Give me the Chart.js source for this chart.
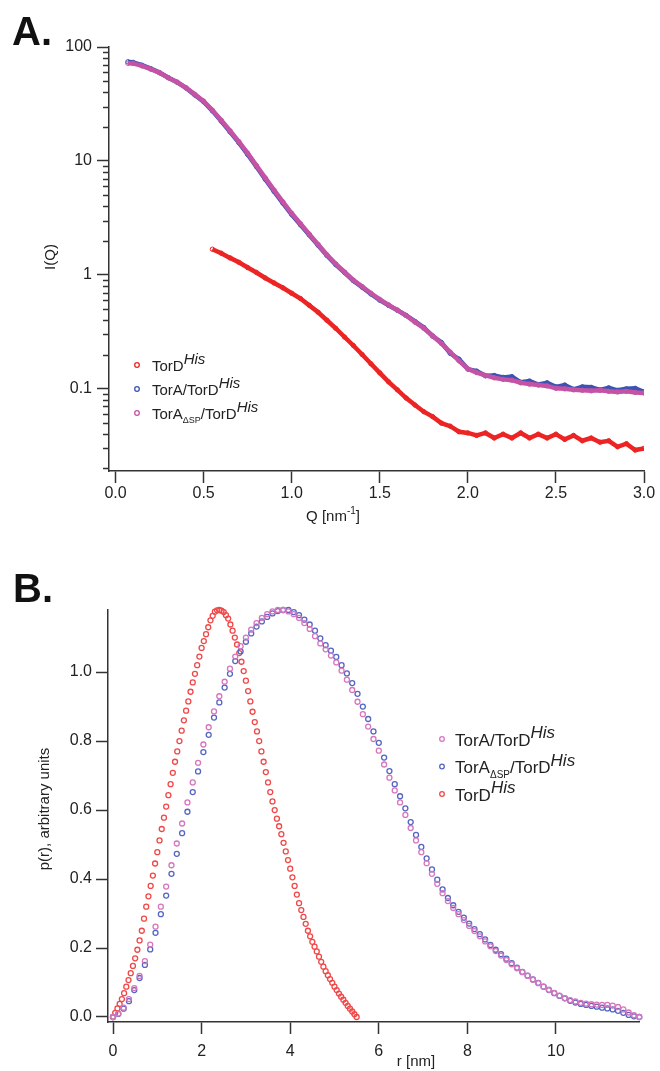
<!DOCTYPE html>
<html>
<head>
<meta charset="utf-8">
<script src="https://cdn.jsdelivr.net/npm/chart.js@4.4.0/dist/chart.umd.min.js"></script>
<style>
  body { margin: 0; background: #fff; }
  canvas { display: block; }
</style>
</head>
<body>
<canvas id="chartA" width="660" height="535"></canvas>
<canvas id="chartB" width="660" height="536"></canvas>
<script>
/* ---------- panel A : I(Q) ---------- */
const qA = [
  0.07, 0.10, 0.15, 0.20, 0.25, 0.30, 0.35, 0.40, 0.45, 0.50,
  0.55, 0.60, 0.65, 0.70, 0.75, 0.80, 0.85, 0.90, 0.95, 1.00,
  1.05, 1.10, 1.15, 1.20, 1.25, 1.30, 1.35, 1.40, 1.45, 1.50,
  1.55, 1.60, 1.65, 1.70, 1.75, 1.80, 1.85, 1.90, 1.95, 2.00,
  2.05, 2.10, 2.15, 2.20, 2.25, 2.30, 2.35, 2.40, 2.45, 2.50,
  2.55, 2.60, 2.65, 2.70, 2.75, 2.80, 2.85, 2.90, 2.95, 3.00
];
const iTorD = [
  null, null, null, null, null, null, null, null, null, null,
  1.68, 1.55, 1.41, 1.29, 1.16, 1.05, 0.94, 0.85, 0.77, 0.69,
  0.62, 0.54, 0.47, 0.40, 0.34, 0.285, 0.24, 0.20, 0.166, 0.138,
  0.115, 0.098, 0.083, 0.072, 0.063, 0.057, 0.050, 0.047, 0.042, 0.041,
  0.039, 0.041, 0.037, 0.040, 0.037, 0.041, 0.037, 0.040, 0.037, 0.040,
  0.036, 0.039, 0.035, 0.037, 0.034, 0.035, 0.031, 0.033, 0.029, 0.030
];
const iTorATorD = [
  74.1, 73.3, 69.2, 64.6, 59.6, 53.7, 49.0, 43.7, 38.0, 33.1,
  27.5, 22.4, 18.0, 14.5, 11.4, 8.9, 6.9, 5.4, 4.27, 3.39,
  2.75, 2.24, 1.82, 1.48, 1.23, 1.05, 0.89, 0.78, 0.68, 0.60,
  0.54, 0.49, 0.44, 0.39, 0.345, 0.29, 0.255, 0.205, 0.182, 0.149,
  0.143, 0.130, 0.131, 0.126, 0.128, 0.114, 0.117, 0.109, 0.113, 0.104,
  0.108, 0.099, 0.104, 0.103, 0.098, 0.102, 0.097, 0.100, 0.101, 0.094
];
const iTorADsp = [
  72.0, 71.8, 68.3, 64.0, 59.4, 53.8, 49.2, 44.0, 38.4, 33.5,
  27.9, 22.8, 18.4, 14.8, 11.7, 9.1, 7.1, 5.55, 4.38, 3.47,
  2.81, 2.28, 1.85, 1.50, 1.25, 1.06, 0.90, 0.79, 0.69, 0.61,
  0.545, 0.49, 0.44, 0.385, 0.34, 0.292, 0.25, 0.21, 0.176, 0.150,
  0.139, 0.131, 0.125, 0.121, 0.119, 0.113, 0.110, 0.108, 0.106, 0.101,
  0.100, 0.098, 0.097, 0.096, 0.097, 0.095, 0.094, 0.095, 0.093, 0.092
];
const qTicks = [0, 0.5, 1.0, 1.5, 2.0, 2.5, 3.0];
const iTicks = [0.1, 1, 10, 100];

/* ---------- panel B : p(r) ---------- */
const rRed = [
  0.00, 0.05, 0.10, 0.15, 0.20, 0.25, 0.30, 0.35, 0.40, 0.45,
  0.50, 0.55, 0.60, 0.65, 0.70, 0.75, 0.80, 0.85, 0.90, 0.95,
  1.00, 1.05, 1.10, 1.15, 1.20, 1.25, 1.30, 1.35, 1.40, 1.45,
  1.50, 1.55, 1.60, 1.65, 1.70, 1.75, 1.80, 1.85, 1.90, 1.95,
  2.00, 2.05, 2.10, 2.15, 2.20, 2.25, 2.30, 2.35, 2.40, 2.45,
  2.50, 2.55, 2.60, 2.65, 2.70, 2.75, 2.80, 2.85, 2.90, 2.95,
  3.00, 3.05, 3.10, 3.15, 3.20, 3.25, 3.30, 3.35, 3.40, 3.45,
  3.50, 3.55, 3.60, 3.65, 3.70, 3.75, 3.80, 3.85, 3.90, 3.95,
  4.00, 4.05, 4.10, 4.15, 4.20, 4.25, 4.30, 4.35, 4.40, 4.45,
  4.50, 4.55, 4.60, 4.65, 4.70, 4.75, 4.80, 4.85, 4.90, 4.95,
  5.00, 5.05, 5.10, 5.15, 5.20, 5.25, 5.30, 5.35, 5.40, 5.45,
  5.50
];
const pTorD = [
  0.000, 0.012, 0.025, 0.038, 0.052, 0.069, 0.088, 0.107, 0.127, 0.148,
  0.170, 0.195, 0.222, 0.250, 0.285, 0.320, 0.350, 0.380, 0.410, 0.445,
  0.478, 0.512, 0.545, 0.578, 0.610, 0.643, 0.675, 0.708, 0.740, 0.770,
  0.800, 0.830, 0.860, 0.888, 0.915, 0.943, 0.970, 0.995, 1.020, 1.045,
  1.070, 1.090, 1.110, 1.130, 1.150, 1.163, 1.175, 1.179, 1.180, 1.178,
  1.174, 1.165, 1.155, 1.138, 1.120, 1.100, 1.080, 1.055, 1.030, 1.003,
  0.975, 0.945, 0.915, 0.885, 0.855, 0.828, 0.800, 0.770, 0.740, 0.710,
  0.680, 0.652, 0.625, 0.600, 0.575, 0.553, 0.530, 0.505, 0.480, 0.455,
  0.430, 0.405, 0.380, 0.355, 0.330, 0.310, 0.290, 0.270, 0.250, 0.234,
  0.218, 0.204, 0.190, 0.175, 0.160, 0.146, 0.133, 0.121, 0.110, 0.099,
  0.088, 0.078, 0.068, 0.059, 0.050, 0.041, 0.032, 0.024, 0.016, 0.008,
  0.000
];
const rAB = [
  0.00, 0.12, 0.24, 0.36, 0.48, 0.60, 0.72, 0.84, 0.96, 1.08,
  1.20, 1.32, 1.44, 1.56, 1.68, 1.80, 1.92, 2.04, 2.16, 2.28,
  2.40, 2.52, 2.64, 2.76, 2.88, 3.00, 3.12, 3.24, 3.36, 3.48,
  3.60, 3.72, 3.84, 3.96, 4.08, 4.20, 4.32, 4.44, 4.56, 4.68,
  4.80, 4.92, 5.04, 5.16, 5.28, 5.40, 5.52, 5.64, 5.76, 5.88,
  6.00, 6.12, 6.24, 6.36, 6.48, 6.60, 6.72, 6.84, 6.96, 7.08,
  7.20, 7.32, 7.44, 7.56, 7.68, 7.80, 7.92, 8.04, 8.16, 8.28,
  8.40, 8.52, 8.64, 8.76, 8.88, 9.00, 9.12, 9.24, 9.36, 9.48,
  9.60, 9.72, 9.84, 9.96, 10.08, 10.20, 10.32, 10.44, 10.56, 10.68,
  10.80, 10.92, 11.04, 11.16, 11.28, 11.40, 11.52, 11.64, 11.76, 11.88
];
const pTorATorD = [
  0.000, 0.010, 0.027, 0.052, 0.084, 0.119, 0.162, 0.210, 0.262, 0.320,
  0.378, 0.440, 0.503, 0.561, 0.622, 0.680, 0.737, 0.790, 0.840, 0.886,
  0.930, 0.972, 1.010, 1.045, 1.075, 1.100, 1.123, 1.142, 1.157, 1.168,
  1.176, 1.180, 1.180, 1.176, 1.168, 1.157, 1.142, 1.125, 1.104, 1.083,
  1.066, 1.048, 1.028, 1.004, 0.978, 0.948, 0.914, 0.878, 0.842, 0.806,
  0.772, 0.732, 0.694, 0.657, 0.622, 0.586, 0.548, 0.512, 0.478, 0.446,
  0.415, 0.386, 0.359, 0.336, 0.316, 0.298, 0.281, 0.264, 0.249, 0.234,
  0.219, 0.205, 0.191, 0.178, 0.165, 0.153, 0.141, 0.130, 0.119, 0.108,
  0.098, 0.088, 0.079, 0.070, 0.062, 0.055, 0.049, 0.045, 0.041, 0.039,
  0.037, 0.036, 0.035, 0.035, 0.033, 0.029, 0.022, 0.013, 0.005, 0.000
];
const pTorADsp = [
  0.000, 0.009, 0.024, 0.046, 0.078, 0.113, 0.151, 0.196, 0.244, 0.298,
  0.352, 0.415, 0.473, 0.533, 0.595, 0.652, 0.712, 0.768, 0.818, 0.868,
  0.912, 0.955, 0.995, 1.032, 1.060, 1.088, 1.112, 1.132, 1.147, 1.160,
  1.170, 1.177, 1.180, 1.180, 1.174, 1.165, 1.152, 1.138, 1.120, 1.098,
  1.078, 1.062, 1.044, 1.020, 0.996, 0.968, 0.937, 0.900, 0.864, 0.828,
  0.795, 0.752, 0.713, 0.675, 0.640, 0.605, 0.565, 0.528, 0.493, 0.460,
  0.428, 0.398, 0.370, 0.345, 0.324, 0.305, 0.288, 0.271, 0.255, 0.240,
  0.225, 0.209, 0.195, 0.182, 0.169, 0.156, 0.143, 0.131, 0.120, 0.109,
  0.099, 0.088, 0.078, 0.069, 0.061, 0.054, 0.047, 0.042, 0.038, 0.035,
  0.032, 0.030, 0.027, 0.025, 0.022, 0.018, 0.012, 0.006, 0.002, 0.000
];
const rTicks = [0, 2, 4, 6, 8, 10];
const pTicks = [0, 0.2, 0.4, 0.6, 0.8, 1.0];

/* ---------- styling ---------- */
const FONT = "'Liberation Sans', Arial, Helvetica, sans-serif";
const INK = '#222';
const AXIS = '#333';
const RED_A = '#ec2424', BLUE_A = '#3b53b3', PINK_A = '#c453a6';
const RED_B = '#f04848', BLUE_B = '#5565c2', PINK_B = '#d775bd';

Chart.defaults.font.family = FONT;
Chart.defaults.color = INK;

const pts = (xs, ys) => xs.map((x, i) => ({ x, y: ys[i] })).filter(p => p.y !== null);

// text built from normal / superscript / subscript pieces
function partFont(k, size) {
  if (k === 'si') return 'italic ' + size + 'px ' + FONT;
  if (k === 'ss') return Math.round(size * 0.65) + 'px ' + FONT;
  if (k === 'sb') return Math.round(size * 0.6) + 'px ' + FONT;
  return size + 'px ' + FONT;
}
function richWidth(ctx, parts, size) {
  let w = 0;
  parts.forEach(([t, k]) => { ctx.font = partFont(k, size); w += ctx.measureText(t).width; });
  return w;
}
function drawRich(ctx, parts, x, y, size, center) {
  let cx = center ? x - richWidth(ctx, parts, size) / 2 : x;
  ctx.textAlign = 'left';
  ctx.textBaseline = 'alphabetic';
  parts.forEach(([t, k]) => {
    ctx.font = partFont(k, size);
    const dy = k === 'si' ? -size * 0.42 : k === 'ss' ? -size * 0.45 : k === 'sb' ? size * 0.3 : 0;
    ctx.fillText(t, cx, y + dy);
    cx += ctx.measureText(t).width + (k === 'si' ? 1 : 0);
  });
}

const decor = {
  id: 'decor',
  afterDraw(chart, args, o) {
    const ctx = chart.ctx;
    ctx.save();
    ctx.fillStyle = '#111';
    ctx.font = 'bold 40px ' + FONT;
    ctx.textAlign = 'left';
    ctx.textBaseline = 'alphabetic';
    ctx.fillText(o.tag[0], o.tag[1], o.tag[2]);

    ctx.fillStyle = INK;
    o.titles.forEach(t => {
      ctx.save();
      ctx.translate(t.x, t.y);
      if (t.rotate) ctx.rotate(-Math.PI / 2);
      drawRich(ctx, t.parts, 0, t.rotate ? t.size * 0.36 : 0, t.size, true);
      ctx.restore();
    });

    // minor ticks on the log axis
    if (o.minor) {
      const ys = chart.scales.y;
      ctx.strokeStyle = AXIS;
      ctx.lineWidth = 1.5;
      for (let e = -2; e <= 1; e++) {
        for (let m = 2; m <= 9; m++) {
          const v = m * Math.pow(10, e);
          if (v < ys.min || v > ys.max) continue;
          const py = Math.round(ys.getPixelForValue(v)) + 0.5;
          ctx.beginPath();
          ctx.moveTo(ys.right - 6, py);
          ctx.lineTo(ys.right, py);
          ctx.stroke();
        }
      }
    }

    // legend with rich labels
    const L = o.legend;
    L.items.forEach((it, i) => {
      const y = L.y + i * L.dy;
      const ds = chart.data.datasets[it.ds];
      ctx.beginPath();
      ctx.arc(L.x, y, 2.3, 0, Math.PI * 2);
      ctx.strokeStyle = ds.pointBorderColor;
      ctx.lineWidth = 1.3;
      ctx.stroke();
      ctx.fillStyle = INK;
      drawRich(ctx, it.parts, L.tx, y + L.base, L.size, false);
    });
    ctx.restore();
  }
};

function axisOpts(extra) {
  return Object.assign({
    grid: { drawOnChartArea: false, drawTicks: true, tickLength: 12, tickColor: AXIS, tickWidth: 1.5 },
    border: { display: true, color: AXIS, width: 1.5 }
  }, extra);
}

const TICK_FONT = { size: 16, family: FONT };

/* ---------- chart A ---------- */
new Chart(document.getElementById('chartA'), {
  type: 'scatter',
  data: {
    datasets: [
      { label: 'TorA\u0394SP/TorD His', data: pts(qA, iTorADsp), showLine: true,
        borderColor: PINK_A, pointBorderColor: PINK_A, pointBackgroundColor: 'rgba(0,0,0,0)',
        borderWidth: 4.5, pointRadius: 2.2, pointBorderWidth: 1 },
      { label: 'TorA/TorD His', data: pts(qA, iTorATorD), showLine: true,
        borderColor: BLUE_A, pointBorderColor: BLUE_A, pointBackgroundColor: 'rgba(0,0,0,0)',
        borderWidth: 4.5, pointRadius: 2.2, pointBorderWidth: 1 },
      { label: 'TorD His', data: pts(qA, iTorD), showLine: true,
        borderColor: RED_A, pointBorderColor: RED_A, pointBackgroundColor: 'rgba(0,0,0,0)',
        borderWidth: 4.5, pointRadius: 2.2, pointBorderWidth: 1 }
    ]
  },
  options: {
    responsive: false,
    animation: false,
    devicePixelRatio: 1,
    layout: { padding: { left: 0, top: 47, right: 16, bottom: 24 } },
    plugins: {
      legend: { display: false },
      tooltip: { enabled: false },
      decor: {
        tag: ['A.', 12, 45],
        minor: true,
        titles: [
          { x: 50, y: 257, rotate: true, size: 15, parts: [['I(Q)', 'n']] },
          { x: 333, y: 521, size: 15, parts: [['Q [nm', 'n'], ['-1', 'ss'], [']', 'n']] }
        ],
        legend: {
          x: 137, tx: 152, y: 365, dy: 24, base: 5.5, size: 15,
          items: [
            { ds: 2, parts: [['TorD', 'n'], ['His', 'si']] },
            { ds: 1, parts: [['TorA/TorD', 'n'], ['His', 'si']] },
            { ds: 0, parts: [['TorA', 'n'], ['\u0394SP', 'sb'], ['/TorD', 'n'], ['His', 'si']] }
          ]
        }
      }
    },
    scales: {
      x: axisOpts({
        type: 'linear', min: -0.037, max: 3.0,
        afterBuildTicks: s => { s.ticks = qTicks.map(v => ({ value: v })); },
        afterFit: s => { s.height = 40; },
        ticks: { font: TICK_FONT, color: INK, padding: 1, maxRotation: 0, autoSkip: false,
                 callback: v => Number(v).toFixed(1) }
      }),
      y: axisOpts({
        type: 'logarithmic', min: 0.019, max: 100,
        afterBuildTicks: s => { s.ticks = iTicks.map(v => ({ value: v })); },
        afterFit: s => { s.width = 109; },
        ticks: { font: TICK_FONT, color: INK, padding: 5, autoSkip: false,
                 callback: v => String(v) }
      })
    }
  },
  plugins: [decor]
});

/* ---------- chart B ---------- */
new Chart(document.getElementById('chartB'), {
  type: 'scatter',
  data: {
    datasets: [
      { label: 'TorA/TorD His', data: pts(rAB, pTorATorD),
        pointBorderColor: PINK_B, pointBackgroundColor: 'rgba(0,0,0,0)',
        pointRadius: 2.5, pointBorderWidth: 1.3, clip: false },
      { label: 'TorA\u0394SP/TorD His', data: pts(rAB, pTorADsp),
        pointBorderColor: BLUE_B, pointBackgroundColor: 'rgba(0,0,0,0)',
        pointRadius: 2.5, pointBorderWidth: 1.3, clip: false },
      { label: 'TorD His', data: pts(rRed, pTorD),
        pointBorderColor: RED_B, pointBackgroundColor: 'rgba(0,0,0,0)',
        pointRadius: 2.5, pointBorderWidth: 1.3, clip: false }
    ]
  },
  options: {
    responsive: false,
    animation: false,
    devicePixelRatio: 1,
    layout: { padding: { left: 0, top: 75, right: 21, bottom: 9 } },
    plugins: {
      legend: { display: false },
      tooltip: { enabled: false },
      decor: {
        tag: ['B.', 13, 67],
        minor: false,
        titles: [
          { x: 44, y: 274, rotate: true, size: 15, parts: [['p(r), arbitrary units', 'n']] },
          { x: 416, y: 531, size: 15, parts: [['r [nm]', 'n']] }
        ],
        legend: {
          x: 442, tx: 455, y: 204, dy: 27.5, base: 6.5, size: 17,
          items: [
            { ds: 0, parts: [['TorA/TorD', 'n'], ['His', 'si']] },
            { ds: 1, parts: [['TorA', 'n'], ['\u0394SP', 'sb'], ['/TorD', 'n'], ['His', 'si']] },
            { ds: 2, parts: [['TorD', 'n'], ['His', 'si']] }
          ]
        }
      }
    },
    scales: {
      x: axisOpts({
        type: 'linear', min: -0.113, max: 11.874,
        afterBuildTicks: s => { s.ticks = rTicks.map(v => ({ value: v })); },
        afterFit: s => { s.height = 40; },
        ticks: { font: TICK_FONT, color: INK, padding: 8, maxRotation: 0, autoSkip: false,
                 callback: v => String(v) }
      }),
      y: axisOpts({
        type: 'linear', min: -0.0145, max: 1.18,
        afterBuildTicks: s => { s.ticks = pTicks.map(v => ({ value: v })); },
        afterFit: s => { s.width = 108; },
        ticks: { font: TICK_FONT, color: INK, padding: 4, autoSkip: false,
                 callback: v => Number(v).toFixed(1) }
      })
    }
  },
  plugins: [decor]
});
</script>
</body>
</html>
